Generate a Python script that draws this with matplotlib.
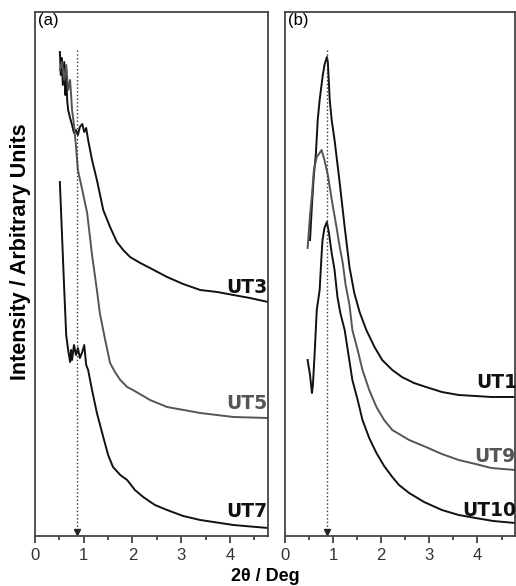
import matplotlib
matplotlib.use("Agg")
from matplotlib import pyplot as plt
from matplotlib.ticker import MultipleLocator

plt.rcParams['font.family'] = ['Liberation Sans', 'DejaVu Sans']

# panel (a) traces (arbitrary intensity units)
ut3_x = [0.51, 0.53, 0.55, 0.57, 0.60, 0.62, 0.64, 0.66, 0.68, 0.72, 0.76, 0.80, 0.84, 0.88,
         0.92, 0.97, 1.01, 1.05, 1.09, 1.17, 1.27, 1.40, 1.54, 1.68, 1.81, 1.95, 2.16, 2.36,
         2.71, 3.04, 3.39, 3.74, 4.07, 4.41, 4.78]
ut3_y = [484, 461, 478, 451, 474, 441, 466, 436, 426, 418, 411, 403, 406, 401,
         409, 412, 404, 408, 396, 376, 356, 326, 309, 294, 286, 279, 273, 268,
         259, 252, 246, 244, 241, 238, 234]

ut5_x = [0.51, 0.55, 0.60, 0.64, 0.68, 0.72, 0.76, 0.80, 0.84, 0.88, 0.97, 1.07, 1.17, 1.27,
         1.33, 1.44, 1.54, 1.64, 1.75, 1.89, 2.01, 2.36, 2.71, 3.39, 4.07, 4.78]
ut5_y = [466, 474, 456, 471, 446, 456, 426, 411, 390, 366, 346, 323, 281, 246,
         223, 196, 173, 164, 156, 149, 146, 136, 129, 123, 119, 118]

ut7_x = [0.51, 0.55, 0.60, 0.64, 0.68, 0.72, 0.74, 0.76, 0.80, 0.84, 0.88, 0.92, 0.97, 1.01,
         1.05, 1.09, 1.17, 1.27, 1.40, 1.50, 1.60, 1.75, 1.89, 2.05, 2.22, 2.46, 2.71, 3.04,
         3.39, 4.07, 4.78]
ut7_y = [354, 306, 246, 201, 186, 174, 186, 176, 191, 181, 188, 178, 184, 191,
         171, 166, 146, 123, 99, 81, 69, 61, 56, 46, 39, 31, 26, 20,
         16, 11, 8]

# panel (b) traces
ut1_x = [0.52, 0.56, 0.60, 0.64, 0.68, 0.72, 0.78, 0.82, 0.87, 0.89, 0.93, 0.97, 1.03, 1.13,
         1.24, 1.34, 1.44, 1.55, 1.69, 1.86, 2.02, 2.23, 2.43, 2.68, 2.93, 3.26, 3.61, 3.96,
         4.29, 4.78]
ut1_y = [296, 331, 361, 381, 416, 436, 459, 471, 479, 474, 436, 416, 396, 356,
         309, 269, 243, 224, 206, 189, 176, 166, 159, 153, 149, 144, 141, 140,
         139, 139]

ut9_x = [0.47, 0.52, 0.56, 0.60, 0.66, 0.72, 0.76, 0.82, 0.89, 0.93, 0.99, 1.07, 1.13, 1.20,
         1.26, 1.34, 1.40, 1.51, 1.61, 1.75, 1.90, 2.06, 2.23, 2.58, 2.93, 3.26, 3.61, 3.96,
         4.29, 4.78]
ut9_y = [288, 321, 341, 366, 379, 383, 386, 376, 361, 349, 331, 309, 291, 273,
         251, 231, 206, 186, 166, 146, 129, 116, 106, 96, 89, 82, 76, 72,
         68, 66]

ut10_x = [0.47, 0.52, 0.56, 0.58, 0.62, 0.66, 0.72, 0.76, 0.78, 0.82, 0.87, 0.91, 0.97, 1.03,
          1.09, 1.15, 1.24, 1.32, 1.40, 1.51, 1.61, 1.75, 1.90, 2.06, 2.23, 2.37, 2.58, 2.89,
          3.26, 3.61, 3.96, 4.33, 4.78]
ut10_y = [176, 161, 143, 151, 186, 226, 246, 281, 296, 308, 314, 304, 283, 266,
          239, 223, 206, 181, 156, 136, 116, 98, 83, 70, 59, 51, 43, 34,
          26, 21, 18, 15, 13]

peak_pos = 0.87
dark = '#111111'
grey = '#555555'


def style_axis(ax, tag):
    ax.set_xlim(0, 4.78)
    ax.set_ylim(0, 524)
    ax.set_yticks([])
    ax.xaxis.set_major_locator(MultipleLocator(1))
    ax.xaxis.set_minor_locator(MultipleLocator(0.5))
    ax.tick_params(axis='x', which='major', direction='out', length=5, width=1.2,
                   labelsize=12, colors='#333333', pad=4)
    ax.tick_params(axis='x', which='minor', direction='out', length=3, width=1.2, colors='#333333')
    for s in ax.spines.values():
        s.set_color('#444444')
        s.set_linewidth(1.3)
    ax.text(0.012, 0.998, tag, transform=ax.transAxes, ha='left', va='top', fontsize=12)
    # dotted marker of the peak position with a small arrow head
    ax.plot([peak_pos, peak_pos], [6, 486], ls=':', color='#333333', lw=1)
    ax.plot([peak_pos], [4], marker='v', color='#222222', markersize=4, clip_on=False)


fig = plt.figure(figsize=(5.16, 5.86), dpi=100)
ax_a = fig.add_axes([35 / 516, 50 / 586, 233 / 516, 524 / 586])
ax_b = fig.add_axes([285 / 516, 50 / 586, 230 / 516, 524 / 586])

ax_a.plot(ut3_x, ut3_y, color=dark, lw=1.4)
ax_a.plot(ut5_x, ut5_y, color=grey, lw=1.4)
ax_a.plot(ut7_x, ut7_y, color=dark, lw=1.4)
style_axis(ax_a, '(a)')
lbl = dict(ha='right', va='bottom', fontsize=13.5, fontweight='bold', family='DejaVu Sans')
ax_a.text(4.76, 239, 'UT3', color=dark, **lbl)
ax_a.text(4.76, 123, 'UT5', color=grey, **lbl)
ax_a.text(4.76, 15, 'UT7', color=dark, **lbl)

ax_b.plot(ut1_x, ut1_y, color=dark, lw=1.4)
ax_b.plot(ut9_x, ut9_y, color=grey, lw=1.4)
ax_b.plot(ut10_x, ut10_y, color=dark, lw=1.4)
style_axis(ax_b, '(b)')
ax_b.text(4.82, 144, 'UT1', color=dark, **lbl)
ax_b.text(4.80, 70, 'UT9', color=grey, **lbl)
ax_b.text(4.80, 16, 'UT10', color=dark, **lbl)

fig.text(0.514, 0.016, '2θ / Deg', ha='center', va='center', fontsize=13, fontweight='bold')
fig.text(0.039, 0.57, 'Intensity / Arbitrary Units', ha='center', va='center',
         rotation=90, fontsize=15.5, fontweight='bold')

fig.savefig('out.png', dpi=100)
